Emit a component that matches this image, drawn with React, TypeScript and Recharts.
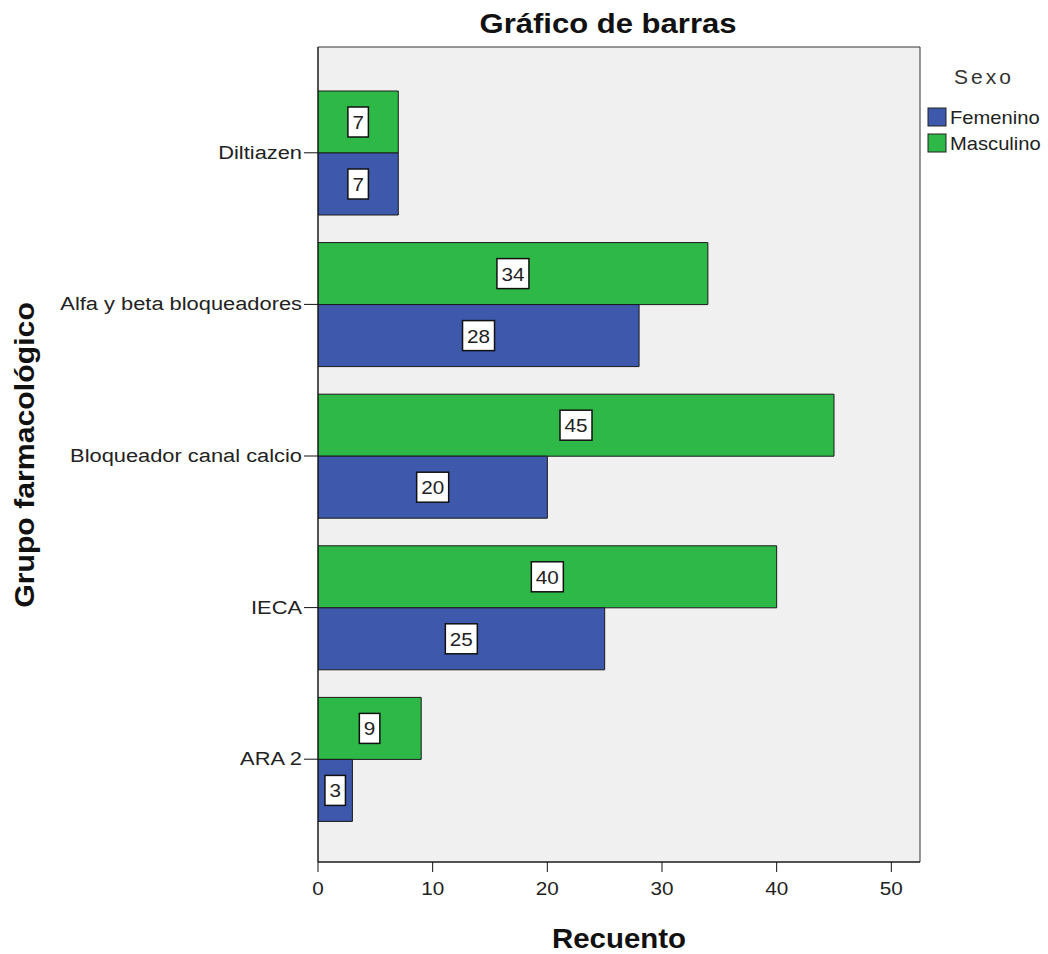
import { BarChart, Bar, XAxis, YAxis, CartesianGrid, LabelList } from 'recharts'

const categories = ['Diltiazen', 'Alfa y beta bloqueadores', 'Bloqueador canal calcio', 'IECA', 'ARA 2']
const femenino = [7, 28, 20, 25, 3]
const masculino = [7, 34, 45, 40, 9]
const xTicks = [0, 10, 20, 30, 40, 50]

const data = categories.map((grupo, i) => ({
  grupo,
  Femenino: femenino[i],
  Masculino: masculino[i],
}))

const BLUE = '#3e58ac'
const GREEN = '#2eb848'
const FONT = 'Arial, "Liberation Sans", sans-serif'
const STRETCH = 1.15

function YTick({ x, y, payload }: any) {
  return (
    <text
      transform={`translate(${x},${y}) scale(${STRETCH},1)`}
      textAnchor="end"
      dy={6}
      fontSize={19}
      fontFamily={FONT}
      fill="#222"
    >
      {payload.value}
    </text>
  )
}

function XTick({ x, y, payload }: any) {
  return (
    <text
      transform={`translate(${x},${y}) scale(${STRETCH},1)`}
      textAnchor="middle"
      dy={21}
      fontSize={18}
      fontFamily={FONT}
      fill="#222"
    >
      {payload.value}
    </text>
  )
}

function ValueBox({ x, y, width, height, value }: any) {
  const cx = x + width / 2
  const cy = y + height / 2
  const w = String(value).length * 11.5 + 9
  return (
    <g>
      <rect x={cx - w / 2} y={cy - 15} width={w} height={30} fill="#fff" stroke="#111" strokeWidth={1.5} />
      <text
        transform={`translate(${cx},${cy}) scale(${STRETCH},1)`}
        textAnchor="middle"
        dy={7}
        fontSize={18}
        fontFamily={FONT}
        fill="#222"
      >
        {value}
      </text>
    </g>
  )
}

export default function App() {
  return (
    <div style={{ position: 'absolute', left: 0, top: 0, width: 1048, height: 954, background: '#fff' }}>
      <BarChart
        width={1048}
        height={954}
        data={data}
        layout="vertical"
        margin={{ top: 47, right: 128, bottom: 52, left: 8 }}
        barCategoryGap={14}
        barGap={0}
      >
        <CartesianGrid
          fill="#f0f0f0"
          stroke="#333"
          strokeWidth={1}
          horizontalCoordinatesGenerator={({ offset }: any) => [offset.top, offset.top + offset.height]}
          verticalCoordinatesGenerator={({ offset }: any) => [offset.left, offset.left + offset.width]}
        />
        <XAxis
          type="number"
          domain={[0, 52.5]}
          ticks={xTicks}
          tickSize={10}
          height={40}
          stroke="#111"
          tick={<XTick />}
          allowDataOverflow
        />
        <YAxis
          type="category"
          dataKey="grupo"
          width={310}
          tickSize={14}
          padding={{ top: 30, bottom: 27 }}
          stroke="#111"
          tick={<YTick />}
          interval={0}
        />
        <Bar dataKey="Masculino" fill={GREEN} stroke="#1a1a1a" strokeWidth={1} isAnimationActive={false}>
          <LabelList dataKey="Masculino" content={<ValueBox />} />
        </Bar>
        <Bar dataKey="Femenino" fill={BLUE} stroke="#1a1a1a" strokeWidth={1} isAnimationActive={false}>
          <LabelList dataKey="Femenino" content={<ValueBox />} />
        </Bar>

        <text
          transform={`translate(608,33) scale(1.15,1)`}
          textAnchor="middle"
          fontSize={27}
          fontWeight="bold"
          fontFamily={FONT}
          fill="#111"
        >
          Gráfico de barras
        </text>
        <text
          transform={`translate(619,948) scale(1.09,1)`}
          textAnchor="middle"
          fontSize={27}
          fontWeight="bold"
          fontFamily={FONT}
          fill="#111"
        >
          Recuento
        </text>
        <text
          transform={`translate(34,455) rotate(-90) scale(1.12,1)`}
          textAnchor="middle"
          fontSize={27}
          fontWeight="bold"
          fontFamily={FONT}
          fill="#111"
        >
          Grupo farmacológico
        </text>

        <g>
          <text x={984} y={84} textAnchor="middle" fontSize={21} letterSpacing={3} fontFamily={FONT} fill="#333">
            Sexo
          </text>
          <rect x={928} y={108} width={18} height={18} fill={BLUE} stroke="#222" />
          <text transform={`translate(950,124) scale(1.12,1)`} fontSize={18} fontFamily={FONT} fill="#222">
            Femenino
          </text>
          <rect x={928} y={134} width={18} height={18} fill={GREEN} stroke="#222" />
          <text transform={`translate(950,150) scale(1.12,1)`} fontSize={18} fontFamily={FONT} fill="#222">
            Masculino
          </text>
        </g>
      </BarChart>
    </div>
  )
}
